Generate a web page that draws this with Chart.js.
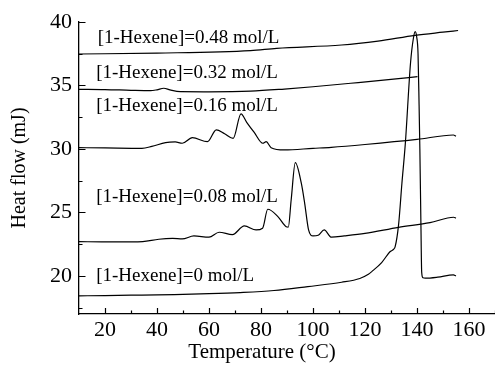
<!DOCTYPE html>
<html><head><meta charset="utf-8">
<script src="https://cdn.jsdelivr.net/npm/chart.js@4"></script>
<style>html,body{margin:0;padding:0;background:#fff}#wrap{width:495px;height:372px}</style>
</head><body><div id="wrap"><canvas id="c" width="495" height="372"></canvas></div>
<script>
// ---- data ----
const temps0 = [10,20,30,40,50,60,72,85,98,111,118,121.3,122.6,126.4,129.6,131,131.6,132.9,134.2,135.5,137.5,138.6,139.3,139.9,140.4,140.8,141.1,141.5,141.8,142.3,143.2,148,154,155];
const flow0  = [18.43,18.45,18.48,18.5,18.55,18.6,18.69,18.85,19.16,19.5,19.8,20.13,20.34,21.05,21.9,22.1,22.3,24.0,27.3,30.4,36.75,38.7,39.24,38.8,37.5,33.5,30.0,24.2,20.3,19.85,19.82,19.9,20.08,20.0];

const temps08 = [10,20,30,34.5,40.7,46,49.7,54.2,60,63.9,69,73.6,78.1,80.6,82.6,86.5,89.7,90.5,91.6,93.2,95.5,96.8,98.3,100,102,104.3,107.1,112,120,132.9,145,154.1,155];
const flow08  = [22.70,22.68,22.68,22.70,22.89,22.95,22.91,23.15,23.05,23.44,23.25,23.94,23.62,23.76,25.25,24.67,23.88,23.85,25.98,28.92,27.3,25.72,23.62,23.15,23.2,23.62,23.05,23.15,23.35,23.83,24.2,24.62,24.55];

const temps16 = [10,20,34.2,38,43.3,47,49.7,53.6,59.4,62.8,66,69.3,72.3,74.5,77.4,80.7,82,83.9,89,100,107,120,140,154,155];
const flow16  = [30.10,30.08,30.05,30.2,30.5,30.55,30.45,30.89,30.57,31.5,31.2,30.84,32.76,32.1,31.3,30.45,30.57,30.1,29.92,30.05,30.13,30.35,30.75,31.1,31.0];

const temps32 = [10,20,30,37.5,40,42.6,45,49,60,76,89,100,117.4,130,140.2];
const flow32  = [34.70,34.68,34.62,34.59,34.66,34.78,34.65,34.51,34.5,34.55,34.72,34.9,35.23,35.48,35.69];

const temps48 = [10,40,76,86,111,125,139.3,150,155.8];
const flow48  = [37.48,37.55,37.75,37.93,38.19,38.5,38.95,39.2,39.33];

const labelTexts = ["[1-Hexene]=0.48 mol/L","[1-Hexene]=0.32 mol/L","[1-Hexene]=0.16 mol/L","[1-Hexene]=0.08 mol/L","[1-Hexene]=0 mol/L"];
const labelTemps = [17.2,16.6,16.6,16.6,16.6];
const labelFlows = [38.74,35.98,33.39,26.22,20.0];

const xMajorTicks = [20,40,60,80,100,120,140,160];
const xMinorTicks = [30,50,70,90,110,130,150,170];
const yMajorTicks = [20,25,30,35,40];
const yMinorTicks = [17.5,22.5,27.5,32.5,37.5];

const xTitle = "Temperature (°C)";
const yTitle = "Heat flow (mJ)";

// ---- chart ----
const FONT = "'Liberation Serif', 'Times New Roman', serif";
function pts(xs, ys){ return xs.map((x,i)=>({x:x, y:ys[i]})); }
const series = [[temps0,flow0],[temps08,flow08],[temps16,flow16],[temps32,flow32],[temps48,flow48]];

const tickPlugin = {
  id:'ticksAndLabels',
  afterDraw(chart){
    const ctx = chart.ctx, xs = chart.scales.x, ys = chart.scales.y;
    const area = chart.chartArea;
    ctx.save();
    ctx.strokeStyle = '#000'; ctx.lineWidth = 1.2;
    ctx.beginPath();
    xMajorTicks.forEach(v=>{const p=Math.round(xs.getPixelForValue(v))+0.5; ctx.moveTo(p,area.bottom); ctx.lineTo(p,area.bottom-6);});
    xMinorTicks.forEach(v=>{const p=Math.round(xs.getPixelForValue(v))+0.5; ctx.moveTo(p,area.bottom); ctx.lineTo(p,area.bottom-3.5);});
    yMajorTicks.forEach(v=>{const p=Math.round(ys.getPixelForValue(v))+0.5; ctx.moveTo(area.left,p); ctx.lineTo(area.left+6.5,p);});
    yMinorTicks.forEach(v=>{const p=Math.round(ys.getPixelForValue(v))+0.5; ctx.moveTo(area.left,p); ctx.lineTo(area.left+3.5,p);});
    ctx.stroke();
    ctx.fillStyle = '#000';
    ctx.font = "19px " + FONT;
    ctx.textAlign = 'left'; ctx.textBaseline = 'middle';
    labelTexts.forEach((t,i)=>{
      ctx.fillText(t, xs.getPixelForValue(labelTemps[i]), ys.getPixelForValue(labelFlows[i]));
    });
    // x axis title, centred under the plotted temperature range
    ctx.font = "21px " + FONT;
    ctx.textAlign = 'center'; ctx.textBaseline = 'middle';
    ctx.fillText(xTitle, 262, 352);
    ctx.restore();
  }
};

new Chart(document.getElementById('c'), {
  type:'line',
  data:{
    datasets: series.map(s=>({
      data: pts(s[0], s[1]),
      borderColor:'#000', borderWidth:1.2, pointRadius:0,
      cubicInterpolationMode:'monotone', fill:false
    }))
  },
  options:{
    responsive:false, animation:false, devicePixelRatio:1,
    layout:{padding:{top:22,right:0,left:0,bottom:0}},
    plugins:{legend:{display:false}, tooltip:{enabled:false}},
    scales:{
      x:{
        type:'linear', min:10, max:170,
        grid:{display:false, drawTicks:false},
        border:{display:true, color:'#000', width:1.3},
        afterBuildTicks(axis){ axis.ticks = xMajorTicks.map(v=>({value:v})); },
        afterFit(scale){ scale.height = 58; },
        ticks:{color:'#000', font:{family:FONT, size:22}, padding:3, maxRotation:0},
        title:{display:false}
      },
      y:{
        type:'linear', min:17, max:40,
        grid:{display:false, drawTicks:false},
        border:{display:true, color:'#000', width:1.3},
        afterBuildTicks(axis){ axis.ticks = yMajorTicks.map(v=>({value:v})); },
        afterFit(scale){ scale.width = 79; },
        ticks:{color:'#000', font:{family:FONT, size:22}, padding:7},
        title:{display:true, text:yTitle, color:'#000', font:{family:FONT, size:20}, padding:{top:8,bottom:0}}
      }
    }
  },
  plugins:[tickPlugin]
});
</script></body></html>
